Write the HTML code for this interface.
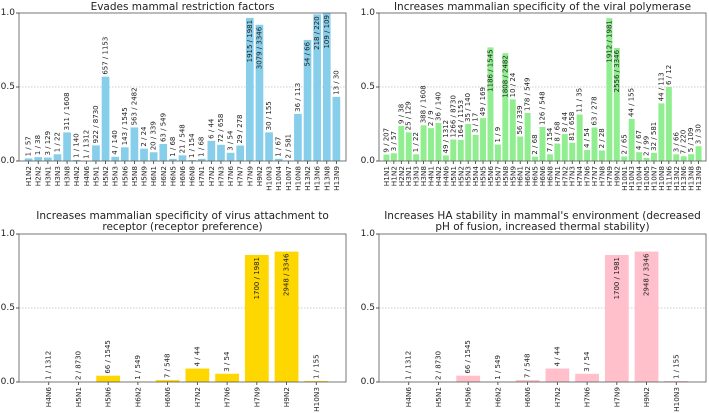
<!DOCTYPE html>
<html><head><meta charset="utf-8">
<style>
html,body{margin:0;padding:0;background:#fff;}
svg{display:block;font-family:"DejaVu Sans","Liberation Sans",sans-serif;}
</style></head>
<body>
<svg id="chart" width="709" height="413" viewBox="0 0 709 413" xmlns="http://www.w3.org/2000/svg"></svg>
<script>
const cats1 = ["H1N2","H2N2","H3N1","H3N3","H3N8","H4N2","H4N6","H5N1","H5N2","H5N3","H5N6","H5N8","H5N9","H6N1","H6N2","H6N5","H6N6","H6N8","H7N1","H7N2","H7N3","H7N6","H7N7","H7N9","H9N2","H10N3","H10N4","H10N7","H10N8","H13N2","H13N6","H13N8","H13N9"];
const num1 = [1,1,3,1,311,1,1,922,657,4,143,563,2,20,63,1,21,1,1,6,72,3,29,1915,3079,30,1,2,36,54,218,109,13];
const den1 = [57,38,129,22,1608,140,1312,8730,1153,140,1545,2482,24,339,549,68,548,154,68,44,658,54,278,1981,3346,155,67,581,113,66,220,109,30];

const cats2 = ["H1N1","H1N2","H2N2","H3N1","H3N3","H3N8","H4N1","H4N2","H4N6","H5N1","H5N2","H5N3","H5N4","H5N5","H5N6","H5N7","H5N8","H5N9","H6N1","H6N2","H6N5","H6N6","H6N8","H7N1","H7N2","H7N3","H7N4","H7N6","H7N7","H7N8","H7N9","H9N2","H10N1","H10N3","H10N4","H10N5","H10N7","H10N8","H11N6","H13N2","H13N6","H13N8","H13N9"];
const num2 = [9,3,9,25,1,388,2,36,49,1266,164,35,3,49,1186,1,1808,10,56,178,2,126,7,8,8,81,11,4,63,2,1912,2556,2,44,4,2,32,44,6,3,7,5,3];
const den2 = [207,57,38,129,22,1608,9,140,1312,8730,1153,140,17,169,1545,9,2482,24,339,549,68,548,154,68,44,658,35,54,278,28,1981,3346,65,155,67,99,581,113,12,66,220,109,30];

const cats3 = ["H4N6","H5N1","H5N6","H6N2","H6N6","H7N2","H7N6","H7N9","H9N2","H10N3"];
const num3 = [1,2,66,1,7,4,3,1700,2948,1];
const den3 = [1312,8730,1545,549,548,44,54,1981,3346,155];

const cats4 = ["H4N6","H5N1","H5N6","H6N2","H6N6","H7N2","H7N6","H7N9","H9N2","H10N3"];
const num4 = [1,2,66,1,7,4,3,1700,2948,1];
const den4 = [1312,8730,1545,549,548,44,54,1981,3346,155];

const yTicks = [0, 0.5, 1.0];
const yTickLabels = ["0.0","0.5","1.0"];

const NS = "http://www.w3.org/2000/svg";
const svg = document.getElementById("chart");
function mk(tag, attrs, parent){
  const e = document.createElementNS(NS, tag);
  for (const k in attrs) e.setAttribute(k, attrs[k]);
  (parent||svg).appendChild(e);
  return e;
}

function panel(name, box, cats, num, den, color, titleLines){
  const g = mk("g", {});
  
  
  const n = cats.length;
  const xs = i => box.x0 + (i + 1) / (n + 1) * (box.x1 - box.x0);
  const unit = (box.x1 - box.x0) / (n + 1);
  const ys = v => box.y1 - v * (box.y1 - box.y0);
  // grid
  const grid = mk("line", {x1:box.x0, x2:box.x1, y1:ys(0.5), y2:ys(0.5), stroke:"#cccccc", "stroke-width":1, "stroke-dasharray":"1.5,1.5"}, g);
  
  
  // bars
  for (let i = 0; i < n; i++){
    const v = num[i] / den[i];
    const bw = unit * 0.8;
    const r = mk("rect", {x:xs(i) - bw/2, y:ys(v), width:bw, height:Math.max(0, ys(0) - ys(v)), fill:color}, g);
    
    
    const lab = num[i] + " / " + den[i];
    let t;
    if (v > 0.65){
      t = mk("text", {transform:"translate(" + xs(i) + "," + (ys(v) + 2) + ") rotate(-90)", "text-anchor":"end", "dominant-baseline":"central", "font-size":7, fill:"#222"}, g);
    } else {
      t = mk("text", {transform:"translate(" + xs(i) + "," + (ys(v) - 2) + ") rotate(-90)", "text-anchor":"start", "dominant-baseline":"central", "font-size":7, fill:"#222"}, g);
    }
    t.textContent = lab;
    
    
    // x tick
    mk("line", {x1:xs(i), x2:xs(i), y1:box.y1, y2:box.y1 + 3, stroke:"#333", "stroke-width":0.8}, g);
    const xt = mk("text", {transform:"translate(" + xs(i) + "," + (box.y1 + 5) + ") rotate(-90)", "text-anchor":"end", "dominant-baseline":"central", "font-size":7.3, fill:"#222"}, g);
    xt.textContent = cats[i];
    
    
  }
  // frame
  const fr = mk("rect", {x:box.x0, y:box.y0, width:box.x1 - box.x0, height:box.y1 - box.y0, fill:"none", stroke:"#555", "stroke-width":0.8}, g);
  
  
  // y ticks
  for (let k = 0; k < yTicks.length; k++){
    mk("line", {x1:box.x0 - 3, x2:box.x0, y1:ys(yTicks[k]), y2:ys(yTicks[k]), stroke:"#333", "stroke-width":0.8}, g);
    const yt = mk("text", {x:box.x0 - 4, y:ys(yTicks[k]), "text-anchor":"end", "dominant-baseline":"central", "font-size":9, fill:"#222"}, g);
    yt.textContent = yTickLabels[k];
    
    
  }
  // title
  const cx = (box.x0 + box.x1) / 2;
  titleLines.forEach((s, j) => {
    const tt = mk("text", {x:cx, y:box.ty + j * 11, "text-anchor":"middle", "font-size":10.5, fill:"#222"}, g);
    tt.textContent = s;
    
    
  });
}

panel("panel-evades-restriction", {x0:19, x1:346, y0:13, y1:161, ty:10}, cats1, num1, den1, "#87CEEB", ["Evades mammal restriction factors"]);
panel("panel-polymerase", {x0:379, x1:706, y0:13, y1:161, ty:10}, cats2, num2, den2, "#90EE90", ["Increases mammalian specificity of the viral polymerase"]);
panel("panel-receptor", {x0:19, x1:346, y0:234, y1:382, ty:219}, cats3, num3, den3, "#FFD700", ["Increases mammalian specificity of virus attachment to","receptor (receptor preference)"]);
panel("panel-ha-stability", {x0:379, x1:706, y0:234, y1:382, ty:219}, cats4, num4, den4, "#FFC0CB", ["Increases HA stability in mammal's environment (decreased","pH of fusion, increased thermal stability)"]);
</script>
</body></html>
